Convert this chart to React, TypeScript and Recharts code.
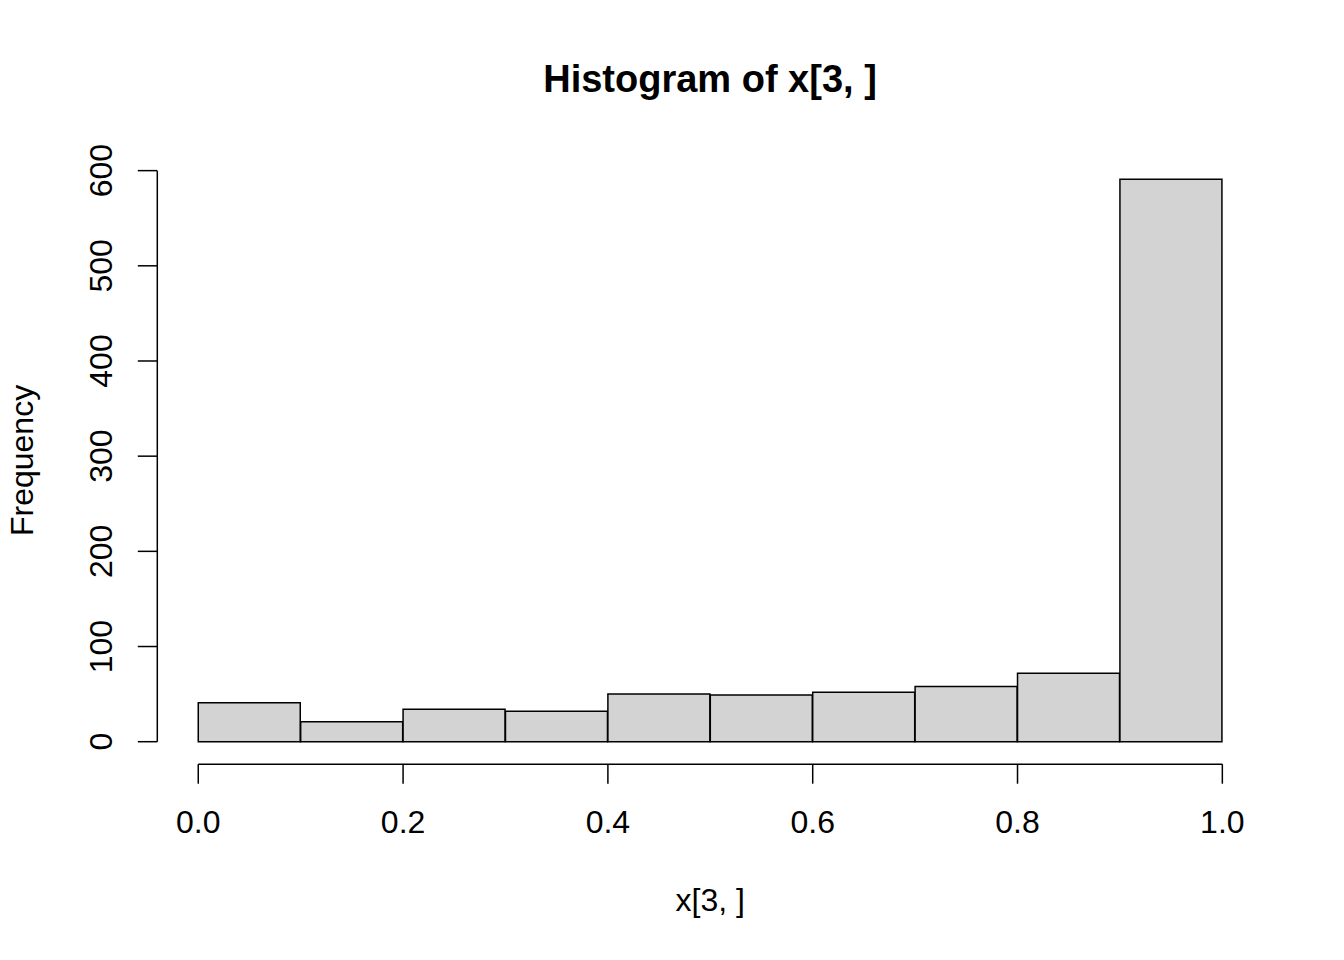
import React from "react";
import { BarChart, Bar, XAxis, YAxis, ReferenceLine } from "recharts";

// histogram of x[3, ] : 10 bins of width 0.1
const binStarts = [0, 0.1, 0.2, 0.3, 0.4, 0.5, 0.6, 0.7, 0.8, 0.9];
const binCounts = [41, 21, 34, 32, 50, 49, 52, 58, 72, 591];
const xTicks = [0, 0.2, 0.4, 0.6, 0.8, 1];
const yTicks = [0, 100, 200, 300, 400, 500, 600];

const title = "Histogram of x[3, ]";
const xLabel = "x[3, ]";
const yLabel = "Frequency";

const FONT = "'Liberation Sans', Arial, Helvetica, sans-serif";

const data = binStarts.map((start, i) => ({
  bin: `${start.toFixed(1)}-${(start + 0.1).toFixed(1)}`,
  mid: start + 0.05,
  count: binCounts[i],
}));

// R extends the plot region by 4% on each side
const maxCount = Math.max(...binCounts);
const xDomain = [-0.04, 1.04];
const yDomain = [-0.04 * maxCount, 1.04 * maxCount];

function XTick({ x, y, payload }: any) {
  return (
    <text x={x} y={y} textAnchor="middle" fontSize={32} fontFamily={FONT} fill="#000">
      {Number(payload.value).toFixed(1)}
    </text>
  );
}

function YTick({ x, y, payload }: any) {
  return (
    <text
      x={x}
      y={y}
      transform={`rotate(-90 ${x} ${y})`}
      textAnchor="middle"
      fontSize={32}
      fontFamily={FONT}
      fill="#000"
    >
      {payload.value}
    </text>
  );
}

function XTitle({ viewBox }: any) {
  const cx = viewBox ? viewBox.x + viewBox.width / 2 : 710;
  return (
    <text x={cx} y={911} textAnchor="middle" fontSize={32} fontFamily={FONT} fill="#000">
      {xLabel}
    </text>
  );
}

function YTitle({ viewBox }: any) {
  const cy = viewBox ? viewBox.y + viewBox.height / 2 : 460;
  return (
    <text
      x={33}
      y={cy}
      transform={`rotate(-90 33 ${cy})`}
      textAnchor="middle"
      fontSize={32}
      fontFamily={FONT}
      fill="#000"
    >
      {yLabel}
    </text>
  );
}

export default function App() {
  return (
    <div style={{ position: "absolute", left: 0, top: 0, width: 1344, height: 960, background: "#fff" }}>
      <svg width={1344} height={130} style={{ position: "absolute", left: 0, top: 0 }}>
        <text x={710} y={92} textAnchor="middle" fontSize={38} fontWeight="bold" fontFamily={FONT} fill="#000">
          {title}
        </text>
      </svg>
      <div style={{ position: "absolute", left: 0, top: 0 }}>
        <BarChart
          width={1344}
          height={960}
          data={data}
          margin={{ top: 156.7, right: 80.7, bottom: 0, left: 0 }}
          barCategoryGap={0}
          barGap={0}
        >
          <XAxis
            xAxisId="bins"
            dataKey="bin"
            type="category"
            orientation="top"
            height={0}
            hide
            padding={{ left: 40.96, right: 40.96 }}
          />
          <XAxis
            xAxisId="num"
            dataKey="mid"
            type="number"
            domain={xDomain}
            allowDataOverflow
            ticks={xTicks}
            height={195.8}
            axisLine={false}
            tickSize={19.5}
            tickMargin={49}
            tickLine={{ stroke: "#000", strokeWidth: 1.5 }}
            tick={<XTick />}
            interval={0}
            label={<XTitle />}
          />
          <YAxis
            domain={yDomain}
            allowDataOverflow
            ticks={yTicks}
            width={157.3}
            axisLine={false}
            tickSize={19.5}
            tickMargin={26}
            tickLine={{ stroke: "#000", strokeWidth: 1.5 }}
            tick={<YTick />}
            interval={0}
            label={<YTitle />}
          />
          <ReferenceLine
            xAxisId="num"
            segment={[
              { x: 0, y: yDomain[0] },
              { x: 1, y: yDomain[0] },
            ]}
            stroke="#000"
            strokeWidth={1.5}
            ifOverflow="visible"
          />
          <ReferenceLine
            xAxisId="num"
            segment={[
              { x: xDomain[0], y: 0 },
              { x: xDomain[0], y: 600 },
            ]}
            stroke="#000"
            strokeWidth={1.5}
            ifOverflow="visible"
          />
          <Bar
            xAxisId="bins"
            dataKey="count"
            fill="#D3D3D3"
            stroke="#000"
            strokeWidth={1.5}
            isAnimationActive={false}
          />
        </BarChart>
      </div>
    </div>
  );
}
